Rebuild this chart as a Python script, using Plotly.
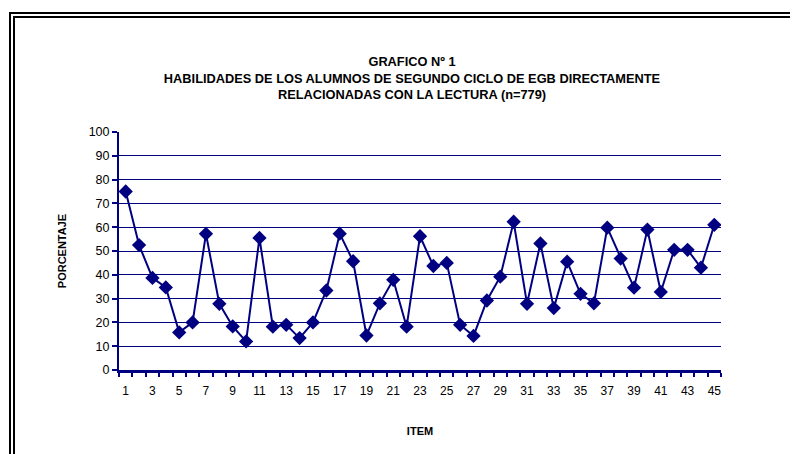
import plotly.graph_objects as go

items = list(range(1, 46))
porcentaje = [75, 52.5, 38.7, 34.7, 15.8, 20, 57.2, 27.8, 18.3, 12,
              55.5, 18.2, 19, 13.4, 20, 33.4, 57.3, 45.7, 14.5, 28,
              37.9, 18.2, 56.2, 43.7, 45, 19, 14.3, 29.2, 39.2, 62.3,
              27.8, 53.2, 26, 45.5, 32, 28, 59.8, 46.8, 34.6, 59,
              32.8, 50.5, 50.5, 43, 61]
x_ticks = list(range(1, 46, 2))
y_ticks = list(range(0, 101, 10))
y_grid = list(range(10, 100, 10))

title_text = ("<b>GRAFICO Nº 1<br>HABILIDADES DE LOS ALUMNOS DE SEGUNDO CICLO DE EGB DIRECTAMENTE"
              "<br>RELACIONADAS CON LA LECTURA (n=779)</b>")

NAVY = "#000080"
OFF = 8  # page body margin
W, H = 798 - OFF, 454 - OFF
# plot area in reference pixels: x 119..721, y 132..370
L = 119 - OFF
T = 132 - OFF
R = W - (721 - OFF)
B = H - (370 - OFF)
pw, ph = W - L - R, H - T - B

def px2paper_x(px):
    return (px - OFF - L) / pw

def px2paper_y(py):
    return (H - B - (py - OFF)) / ph

def frame(cx, cy, width, color):
    return dict(type="rect", xref="paper", yref="paper",
                x0=px2paper_x(cx), x1=px2paper_x(900),
                y0=px2paper_y(600), y1=px2paper_y(cy),
                line=dict(color=color, width=width),
                fillcolor="rgba(0,0,0,0)", layer="above")

fig = go.Figure()
fig.add_trace(go.Scatter(
    x=items, y=porcentaje, mode="lines+markers",
    line=dict(color=NAVY, width=2),
    marker=dict(symbol="diamond", size=11, color=NAVY),
    showlegend=False, hoverinfo="x+y",
))

fig.update_layout(
    width=W, height=H,
    margin=dict(l=L, r=R, t=T, b=B),
    paper_bgcolor="white", plot_bgcolor="white",
    font=dict(family="Liberation Sans, Arial, sans-serif", color="black", size=12),
    title=dict(text=title_text, x=(412 - 119) / 602, xref="paper", xanchor="center",
               y=1 - 58 / H, yref="container", yanchor="top",
               font=dict(size=12.8, color="black")),
    shapes=[
        frame(12, 15, 6, "black"),
        frame(12, 15, 2, "white"),
    ],
)

fig.update_xaxes(
    range=[0.5, 45.5], tickmode="array", tickvals=x_ticks,
    ticktext=[str(v) for v in x_ticks], ticks="", showgrid=False, zeroline=False,
    showline=True, linecolor=NAVY, linewidth=3,
    ticklabelstandoff=8,
    tickfont=dict(size=12, color="black"),
    minor=dict(tick0=0.5, dtick=1, ticks="outside", ticklen=4, tickwidth=2,
               tickcolor=NAVY, showgrid=False),
    title=dict(text="<b>ITEM</b>", font=dict(size=11, color="black"), standoff=30),
)
fig.update_yaxes(
    range=[0, 100], tickmode="array", tickvals=y_ticks,
    ticks="outside", ticklen=5, tickwidth=2, tickcolor=NAVY,
    showgrid=False, zeroline=False,
    showline=True, linecolor=NAVY, linewidth=2,
    tickfont=dict(size=12.5, color="black"),
    minor=dict(tickmode="array", tickvals=y_grid, showgrid=True,
               gridcolor=NAVY, gridwidth=1, ticks=""),
    title=dict(text="<b>PORCENTAJE</b>", font=dict(size=11, color="black"), standoff=20),
)

fig.write_html("out.html")
